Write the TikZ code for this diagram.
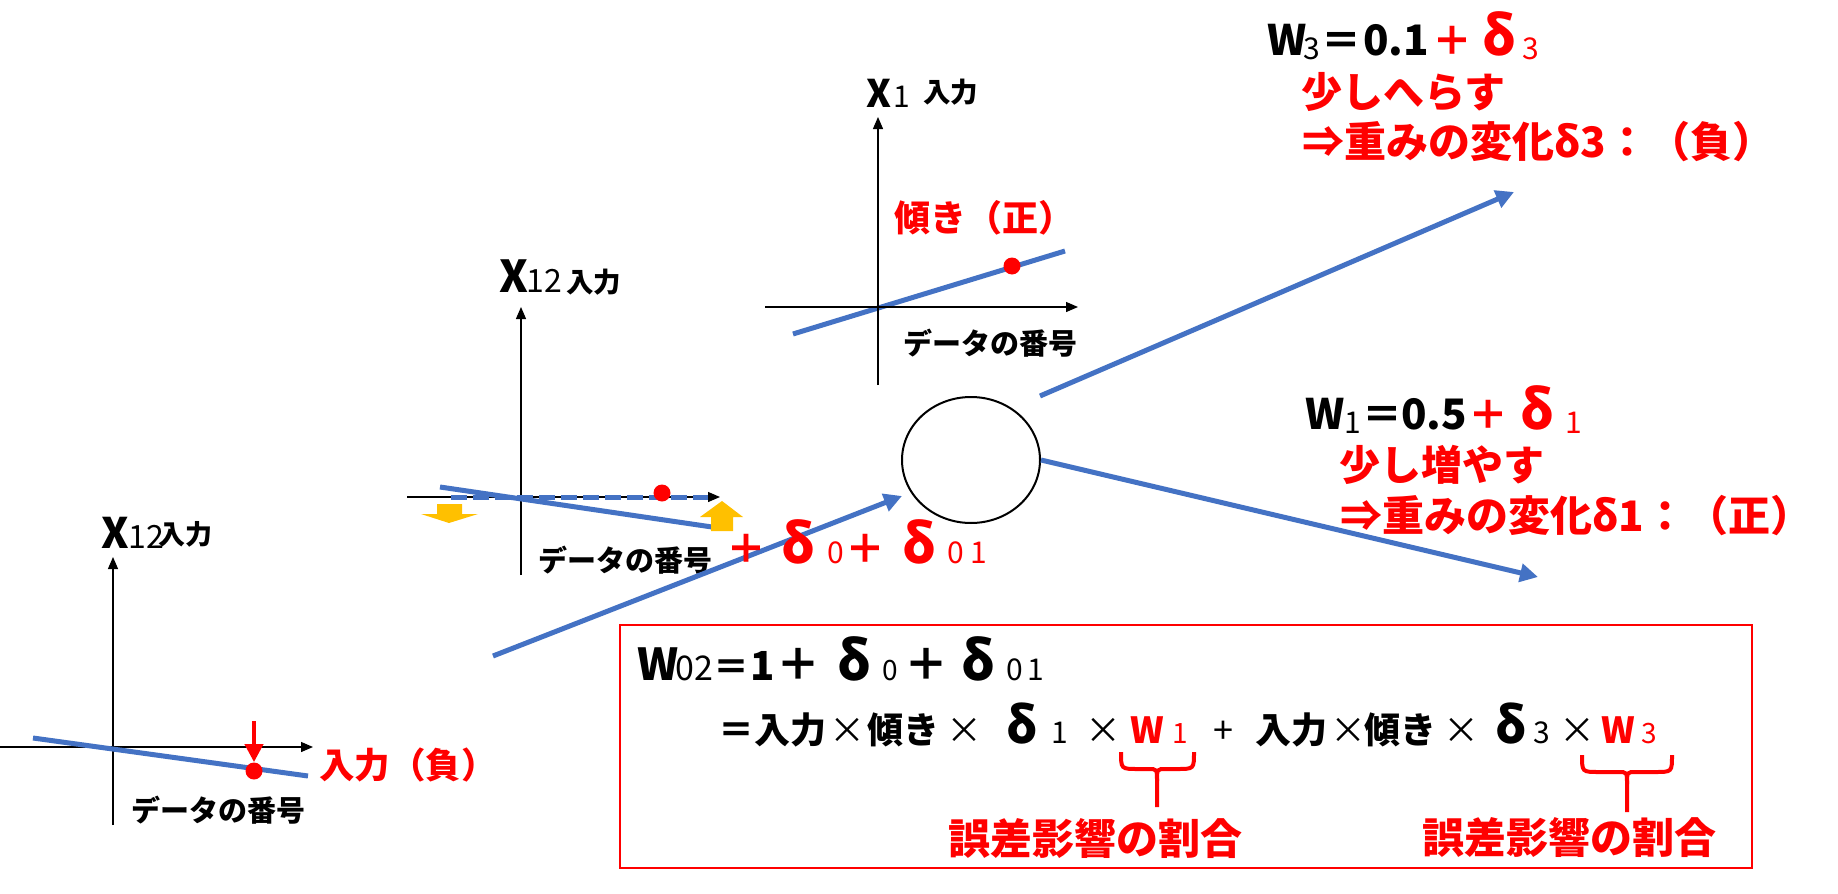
\documentclass[tikz,border=0pt]{standalone}
\usepackage{fontspec}
\setmainfont{Noto Sans CJK JP}
\usetikzlibrary{arrows.meta,shapes.geometric}
\definecolor{oblue}{HTML}{4472C4}
\definecolor{ored}{HTML}{FF0000}
\definecolor{oyel}{HTML}{FFC000}
\newcommand\fsz[1]{\fontsize{#1}{#1}\selectfont}
\newcommand\wpc[2]{\makebox[#1pt][l]{#2}}
\begin{document}
\begin{tikzpicture}[x=0.5pt,y=-0.5pt,
  axis/.style={line width=0.65pt,-{Triangle[length=6pt,width=5pt]}},
  bline/.style={draw=oblue,line width=2.5pt},
  barrow/.style={draw=oblue,line width=2.5pt,-{Triangle[length=9pt,width=9pt]}},
  rdot/.style={circle,fill=ored,inner sep=0pt,minimum size=8.5pt},
  txt/.style={inner sep=0pt,font=\bfseries},
  bw/.style={txt,anchor=base west},
  rbrace/.style={draw=ored,line width=2pt},
]
\useasboundingbox[fill=white] (0,0) rectangle (1838,894);

% ---------- chart A (top) ----------
\draw[bline] (793,334) -- (1065,251);
\draw[axis] (878,385) -- (878,117);
\draw[axis] (765,307) -- (1078,307);
\node[rdot] (dA) at (1012,266) {};
\node[bw] (xA) at (866,107) {\wpc{13.5}{\fsz{19}X}{\fsz{15}\mdseries 1}};
\node[bw] (xAin) at (923,102) {\fsz{13.75}入力};
\node[txt,text=ored] (slopeA) at (984,218) {\fsz{18}傾き（正）};
\node[txt] (dataA) at (990,343) {\fsz{14.5}データの番号};

% ---------- chart B (middle) ----------
\draw[axis] (521,575) -- (521,307);
\draw[axis] (407,497) -- (720,497);
\draw[bline,dash pattern=on 8pt off 3pt] (451,497) -- (708,497);
\draw[bline] (440,487) -- (712,527);
\node[rdot] (dB) at (662,493) {};
\fill[oyel] (437,504) -- (462,504) -- (462,514) -- (478,514) -- (449,523) -- (421,514) -- (437,514) -- cycle;
\fill[oyel] (711,531) -- (733,531) -- (733,517) -- (743,517) -- (722,501) -- (700,517) -- (711,517) -- cycle;
\node[bw] (xB) at (499,292) {\wpc{13.5}{\fsz{22}X}{\fsz{16}\mdseries 12}};
\node[bw] (xBin) at (566,292) {\fsz{13.75}入力};
\node[txt] (dataB) at (625,560) {\fsz{14.5}データの番号};

% ---------- chart C (lower left) ----------
\draw[axis] (113,825) -- (113,557);
\draw[axis] (0,747) -- (313,747);
\draw[bline] (33,738) -- (308,776);
\node[rdot] (dC) at (254,771) {};
\coordinate (cArr) at (254,721);
\draw[ored,line width=2pt,-{Triangle[length=9pt,width=9pt]}] (cArr) -- (dC.north);
\node[bw] (xC) at (101,548) {\wpc{13.5}{\fsz{21}X}\wpc{15}{\fsz{16}\mdseries 12}\raisebox{2pt}{\fsz{13.5}入力}};
\node[txt,text=ored] (negC) at (408,765) {\fsz{17.75}入力（負）};
\node[txt] (dataC) at (218,810) {\fsz{14.5}データの番号};

% ---------- neuron and weights ----------
\node[draw,ellipse,line width=1pt,minimum width=69pt,minimum height=63pt,inner sep=0pt] (neuron) at (971,460) {};
\coordinate (inStart) at (493,656);
\coordinate (inTip) at (902,496);
\draw[barrow] (inStart) -- (inTip);
\coordinate (upStart) at (1040,396);
\coordinate (upTip) at (1514,192);
\draw[barrow] (upStart) -- (upTip);
\coordinate (dnTip) at (1538,577);
\draw[barrow] (neuron.east) -- (dnTip);

\node[bw,text=ored] (dsum) at (726,563) {\wpc{27.5}{\fsz{20}＋}\wpc{23}{\fsz{27}δ}\wpc{9}{\fsz{15}\mdseries 0}\wpc{28.5}{\fsz{20}＋}\wpc{22.5}{\fsz{27}δ}{\fsz{15}\mdseries 0\hspace{3pt}1}};

% ---------- W3 ----------
\node[bw] (w3) at (1267,55) {\wpc{18}{\fsz{21}W}\wpc{9}{\raisebox{-2pt}{\fsz{15}\mdseries 3}}\wpc{21}{\fsz{20}＝}\wpc{34.5}{\fsz{21}0.1}\color{ored}\wpc{25}{\fsz{20}＋}\wpc{20}{\fsz{27}δ}\raisebox{-2pt}{\fsz{15}\mdseries 3}};
\node[txt,text=ored,anchor=west] (w3a) at (1301,92) {\fsz{20.5}少しへらす};
\node[txt,text=ored,anchor=west] (w3b) at (1302,142) {\fsz{21}⇒重みの変化δ3：（負）};

% ---------- W1 ----------
\node[bw] (w1) at (1305,429) {\wpc{19.5}{\fsz{21}W}\wpc{9}{\raisebox{-2pt}{\fsz{15}\mdseries 1}}\wpc{19.5}{\fsz{20}＝}\wpc{33.5}{\fsz{21}0.5}\color{ored}\wpc{26}{\fsz{20}＋}\wpc{22.5}{\fsz{27}δ}\raisebox{-2pt}{\fsz{15}\mdseries 1}};
\node[txt,text=ored,anchor=west] (w1a) at (1339,465) {\fsz{20.5}少し増やす};
\node[txt,text=ored,anchor=west] (w1b) at (1340,516) {\fsz{21}⇒重みの変化δ1：（正）};

% ---------- box ----------
\node[draw=ored,line width=1pt,inner sep=0pt,minimum width=566pt,minimum height=121.5pt,anchor=north west] (box) at (619,624) {};
\node[bw] (l1) at (637,680) {\wpc{19}{\fsz{22}W}\wpc{19}{\fsz{17}\mdseries 02}\wpc{18.5}{\fsz{18}＝}\wpc{13}{\fsz{20}1}\wpc{30.5}{\fsz{22}＋}\wpc{22.5}{\fsz{27}δ}\wpc{11}{\fsz{14}\mdseries 0}\wpc{28.5}{\fsz{22}＋}\wpc{22.5}{\fsz{27}δ}{\fsz{15}\mdseries 0\hspace{2pt}1}};
\node[bw] (l2) at (718,743) {\fsz{18}\wpc{18}{＝}\wpc{37.5}{入力}\wpc{19}{\mdseries ×}\wpc{39.5}{傾き}\wpc{30}{\mdseries ×}\wpc{22.5}{\fsz{25}δ}\wpc{17}{\fsz{15}\mdseries 1}\wpc{22.5}{\mdseries ×}{\color{ored}\wpc{21}{W}\wpc{20.5}{\fsz{14}\mdseries 1}}\wpc{21}{\mdseries +}\wpc{37.5}{入力}\wpc{17}{\mdseries ×}\wpc{39.5}{傾き}\wpc{26}{\mdseries ×}\wpc{19}{\fsz{25}δ}\wpc{13}{\fsz{15}\mdseries 3}\wpc{21}{\mdseries ×}{\color{ored}\wpc{20}{W}{\fsz{14}\mdseries 3}}};
\draw[rbrace] (1121,752) .. controls (1121,769) .. (1138,769) -- (1148,769) .. controls (1157,769) .. (1157,781) -- (1157,807);
\draw[rbrace] (1194,752) .. controls (1194,769) .. (1177,769) -- (1166,769) .. controls (1157,769) .. (1157,781);
\draw[rbrace] (1582,755) .. controls (1582,772) .. (1599,772) -- (1618,772) .. controls (1627,772) .. (1627,784) -- (1627,812);
\draw[rbrace] (1672,755) .. controls (1672,772) .. (1655,772) -- (1636,772) .. controls (1627,772) .. (1627,784);
\node[txt,text=ored] (err1) at (1095,839) {\fsz{21}誤差影響の割合};
\node[txt,text=ored] (err2) at (1569,838) {\fsz{21}誤差影響の割合};
\end{tikzpicture}
\end{document}
